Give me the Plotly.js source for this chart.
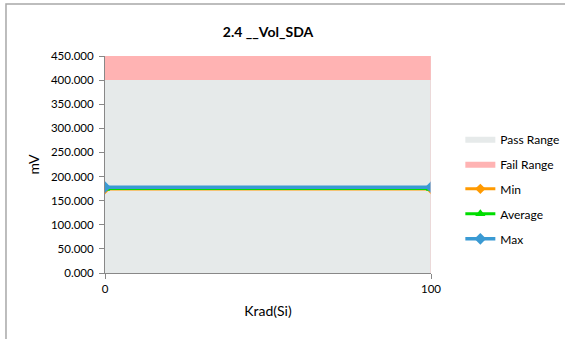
<!DOCTYPE html>
<html><head><meta charset="utf-8">
<script src="https://cdn.plot.ly/plotly-3.0.1.min.js"></script>
<style>html,body{margin:0;padding:0;background:#fff;}#chart{width:565px;height:339px;}</style>
</head><body><div id="chart"></div>
<script>
var xVals = [0, 100];
var passRange = [400, 400];
var failRange = [450, 450];
var minVals = [174.0, 174.0];
var avgVals = [175.0, 175.0];
var maxVals = [178.0, 178.0];
var yTicks = [0, 50, 100, 150, 200, 250, 300, 350, 400, 450];

var traces = [
  {x: xVals, y: passRange, name: 'Pass Range', type: 'scatter', mode: 'lines', fill: 'tozeroy',
   fillcolor: '#E6EAEA', line: {width: 0, color: '#E6EAEA'}, legendgroup: 'a', hoverinfo: 'skip'},
  {x: xVals, y: failRange, name: 'Fail Range', type: 'scatter', mode: 'lines', fill: 'tonexty',
   fillcolor: '#FFB3B3', line: {width: 0, color: '#FFB3B3'}, legendgroup: 'b', hoverinfo: 'skip'},
  {x: xVals, y: minVals, name: 'Min', type: 'scatter', mode: 'lines+markers',
   line: {color: '#FF9A00', width: 3}, marker: {symbol: 'diamond', size: 8, color: '#FF9A00'}, legendgroup: 'c'},
  {x: xVals, y: avgVals, name: 'Average', type: 'scatter', mode: 'lines+markers',
   line: {color: '#00DD00', width: 3}, marker: {symbol: 'triangle-up', size: 9, color: '#00DD00'}, legendgroup: 'd'},
  {x: xVals, y: maxVals, name: 'Max', type: 'scatter', mode: 'lines+markers',
   line: {color: '#3A9AD3', width: 3.5}, marker: {symbol: 'diamond', size: 9, color: '#3A9AD3'}, legendgroup: 'e'}
];

var layout = {
  width: 565, height: 339,
  margin: {l: 105, r: 134, t: 56, b: 66, autoexpand: false},
  paper_bgcolor: '#ffffff', plot_bgcolor: '#ffffff',
  font: {family: 'Lato, "Open Sans", sans-serif', color: '#000', size: 11},
  title: {text: '<b>2.4 __Vol_SDA</b>', x: 0.5, xref: 'paper', y: 0.905, yanchor: 'middle',
          font: {size: 14, family: 'Lato, "Open Sans", sans-serif', color: '#000'}},
  xaxis: {range: [0, 100], tickvals: xVals, ticktext: ['0', '100'], showgrid: false, zeroline: false,
          showline: true, linecolor: '#888', linewidth: 1, ticks: 'outside', tickcolor: '#888', ticklen: 5,
          title: {text: 'Krad(Si)', font: {size: 14}, standoff: 12}, tickfont: {size: 11.5}},
  yaxis: {range: [0, 450], tickvals: yTicks, tickformat: '.3f', showgrid: false, zeroline: false,
          showline: true, linecolor: '#888', linewidth: 1, ticks: 'outside', tickcolor: '#888', ticklen: 5,
          ticklabelstandoff: 3,
          title: {text: 'mV', font: {size: 14}, standoff: 8}, tickfont: {size: 11.5}},
  legend: {x: 1.09, xanchor: 'left', y: 0.685, yanchor: 'top', traceorder: 'grouped', tracegroupgap: 6,
           font: {size: 12}, itemwidth: 30, bgcolor: 'rgba(0,0,0,0)'},
  shapes: [
    {type: 'rect', xref: 'paper', yref: 'paper', x0: -0.3037, x1: 2, y0: -1, y1: 1.2396,
     line: {color: '#A8A8A8', width: 1.5}, fillcolor: 'rgba(0,0,0,0)', layer: 'below'},
    {type: 'line', xref: 'x', yref: 'y', x0: 100, x1: 100, y0: 0, y1: 450,
     line: {color: '#F0C8C8', width: 1}}
  ]
};
Plotly.newPlot('chart', traces, layout, {displayModeBar: false, staticPlot: true});
</script></body></html>
